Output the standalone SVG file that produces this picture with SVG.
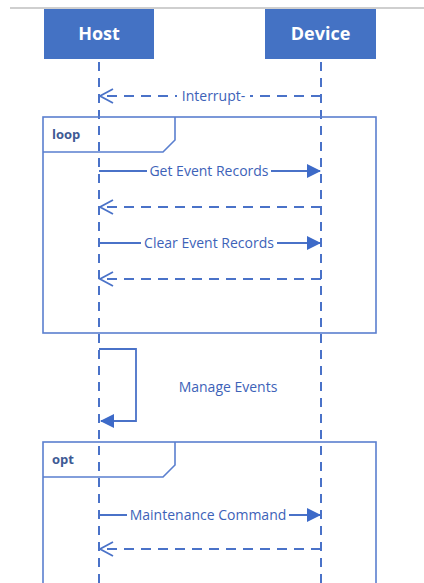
<svg xmlns="http://www.w3.org/2000/svg" width="424" height="583" viewBox="0 0 424 583">
<defs>
<style>
.head{fill:#4472c4}
.headtxt{font-family:"Open Sans","Noto Sans",sans-serif;font-weight:bold;font-size:18px;fill:#ffffff}
.life{stroke:#4a72c8;stroke-width:2;stroke-dasharray:9 7;fill:none}
.msg{stroke:#4a72c8;stroke-width:1.8;fill:none}
.ret{stroke:#4a72c8;stroke-width:1.8;fill:none;stroke-dasharray:10 7}
.frame{stroke:#5a7fcf;stroke-width:1.6;fill:none}
.bg{fill:#ffffff}
.lbl{font-family:"Open Sans","Noto Sans",sans-serif;font-size:14px;fill:#3d62b8}
.ftxt{font-family:"Open Sans","Noto Sans",sans-serif;font-weight:bold;font-size:13px;fill:#3e5a94}
</style>
<marker id="filled" markerWidth="14" markerHeight="14" refX="13" refY="7" orient="auto" markerUnits="userSpaceOnUse">
<path d="M0,0 L14,7 L0,14 Z" fill="#3d6ac8"/>
</marker>
<marker id="open" markerWidth="16" markerHeight="16" refX="14" refY="8" orient="auto" markerUnits="userSpaceOnUse">
<path d="M1,1 L14,8 L1,15" fill="none" stroke="#4a72c8" stroke-width="1.8"/>
</marker>
</defs>
<rect width="424" height="583" fill="#ffffff"/>
<line x1="10" y1="8" x2="424" y2="8" stroke="#cfcfcf" stroke-width="2"/>

<g id="host">
<rect class="head" x="44" y="9" width="110" height="50"/>
<text class="headtxt" x="99" y="40" text-anchor="middle">Host</text>
</g>
<g id="device">
<rect class="head" x="265" y="9" width="111" height="50"/>
<text class="headtxt" x="320.5" y="40" text-anchor="middle">Device</text>
</g>

<g id="lifelines">
<line class="life" x1="99" y1="62" x2="99" y2="583"/>
<line class="life" x1="321" y1="62" x2="321" y2="583"/>
</g>

<g id="loop">
<rect class="frame" x="43" y="117" width="333" height="216"/>
<path class="frame" d="M43,152 L163,152 L175,140 L175,117"/>
<text class="ftxt" x="52" y="139">loop</text>
</g>

<g id="opt">
<rect class="frame" x="43" y="442" width="333" height="200"/>
<path class="frame" d="M43,477 L163,477 L175,465 L175,442"/>
<text class="ftxt" x="52" y="464">opt</text>
</g>

<g id="connectors">
<line class="ret" x1="321" y1="96" x2="100" y2="96" marker-end="url(#open)"/>
<rect class="bg" x="177" y="88" width="73" height="16"/>
<text class="lbl" x="213.5" y="101" text-anchor="middle">Interrupt-</text>

<line class="msg" x1="99" y1="171" x2="320" y2="171" marker-end="url(#filled)"/>
<rect class="bg" x="147" y="163" width="124" height="16"/>
<text class="lbl" x="209" y="176" text-anchor="middle">Get Event Records</text>
<line class="ret" x1="321" y1="207" x2="100" y2="207" marker-end="url(#open)"/>

<line class="msg" x1="99" y1="243" x2="320" y2="243" marker-end="url(#filled)"/>
<rect class="bg" x="141" y="235" width="136" height="16"/>
<text class="lbl" x="209" y="248" text-anchor="middle">Clear Event Records</text>
<line class="ret" x1="321" y1="279" x2="100" y2="279" marker-end="url(#open)"/>

<path class="msg" d="M99,349 L136,349 L136,421 L101,421" marker-end="url(#filled)"/>
<text class="lbl" x="228" y="392" text-anchor="middle">Manage Events</text>

<line class="msg" x1="99" y1="515" x2="320" y2="515" marker-end="url(#filled)"/>
<rect class="bg" x="127" y="507" width="162" height="16"/>
<text class="lbl" x="208" y="520" text-anchor="middle">Maintenance Command</text>
<line class="ret" x1="321" y1="549" x2="100" y2="549" marker-end="url(#open)"/>
</g>
</svg>
